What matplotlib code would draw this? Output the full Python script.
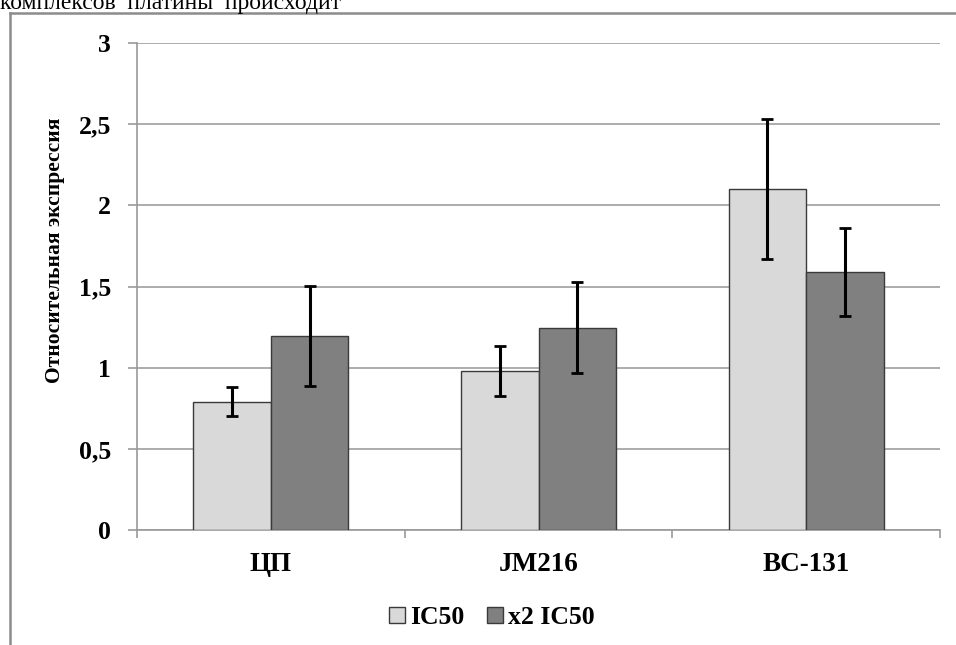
import numpy as np
import matplotlib
matplotlib.use("Agg")
from matplotlib import pyplot as plt
from matplotlib.lines import Line2D

plt.rcParams['font.family'] = ['Liberation Serif', 'DejaVu Serif']

categories = ['ЦП', 'JM216', 'BC-131']
series = ['IC50', 'x2 IC50']
ic50 = [0.79, 0.98, 2.10]
ic50_err = [0.09, 0.155, 0.43]
x2ic50 = [1.195, 1.246, 1.588]
x2ic50_err = [0.31, 0.28, 0.27]
yticks = [0, 0.5, 1, 1.5, 2, 2.5, 3]
ytick_labels = ['0', '0,5', '1', '1,5', '2', '2,5', '3']

W, H = 956, 645
fig = plt.figure(figsize=(W / 100, H / 100), dpi=100)
ax = fig.add_axes([137 / W, 1 - 530 / H, (940 - 137) / W, (530 - 43) / H])

## Bars ##
x = np.arange(len(categories))
bw = 0.289
err_kw = dict(ecolor='black', elinewidth=2.2, capsize=4.5, capthick=2)
ax.bar(x - bw / 2, ic50, bw, color='#D9D9D9', edgecolor='#3a3a3a', linewidth=1,
       yerr=ic50_err, error_kw=err_kw, label=series[0], zorder=3)
ax.bar(x + bw / 2, x2ic50, bw, color='#808080', edgecolor='#3a3a3a', linewidth=1,
       yerr=x2ic50_err, error_kw=err_kw, label=series[1], zorder=3)

## Axes styling ##
ax.set_xlim(-0.5, len(categories) - 0.5)
ax.set_ylim(0, 3)
ax.set_yticks(yticks)
ax.set_yticklabels(ytick_labels, fontsize=18.5, fontweight='bold')
ax.set_xticks(x)
ax.set_xticklabels(categories, fontsize=19.5, fontweight='bold')
ax.set_xticks(np.arange(len(categories) + 1) - 0.5, minor=True)
ax.tick_params(axis='x', which='major', length=0, pad=16)
ax.tick_params(axis='x', which='minor', length=6, width=1.2, color='#999999')
ax.tick_params(axis='y', length=6.5, width=1.2, color='#999999', pad=12)
ax.grid(axis='y', color='#a6a6a6', linewidth=1.3, zorder=0)
for s in ['top', 'right']:
    ax.spines[s].set_visible(False)
for s in ['left', 'bottom']:
    ax.spines[s].set_color('#999999')
    ax.spines[s].set_linewidth(1.2)

ax.set_ylabel('Относительная экспрессия', fontsize=15.5, fontweight='bold')
ax.yaxis.set_label_coords(-0.09, 0.575)

ax.legend(loc='center', bbox_to_anchor=(0.442, -0.18), ncol=2, frameon=False,
          prop={'size': 18.5, 'weight': 'bold'}, handlelength=0.6, handleheight=0.6,
          handletextpad=0.2, columnspacing=0.9)

## Outer chart frame and cut-off text above ##
fig.add_artist(Line2D([9.5 / W, 9.5 / W], [0, 1 - 13 / H], color='#8c8c8c', lw=1.8))
fig.add_artist(Line2D([9.5 / W, 1], [1 - 13 / H, 1 - 13 / H], color='#8c8c8c', lw=1.8))
fig.text(0.0, 1 - 9 / H, 'комплексов  платины  происходит', fontsize=17,
         ha='left', va='baseline')

fig.savefig('out.png', dpi=100)
